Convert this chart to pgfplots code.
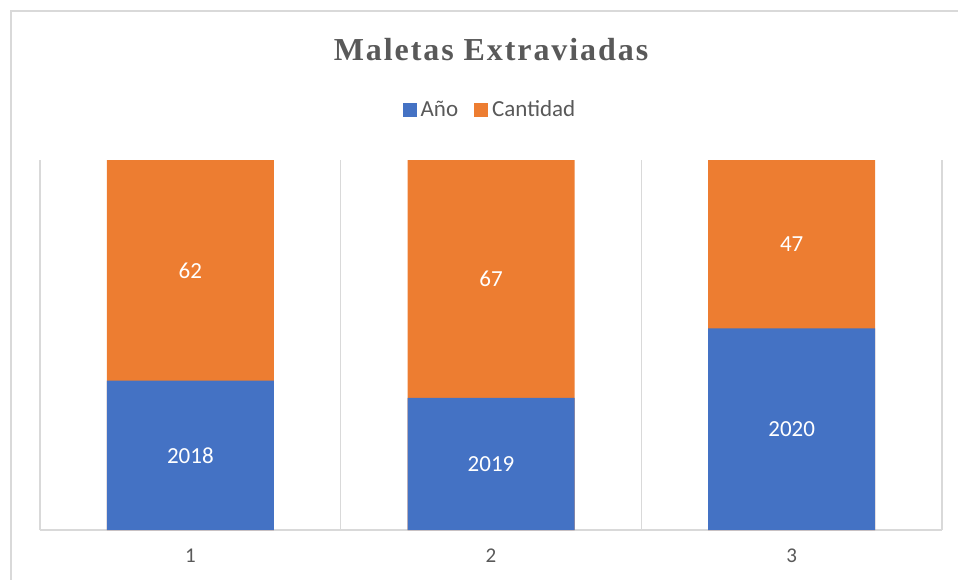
\documentclass[border=0pt]{standalone}
\usepackage{pgfplots}
\pgfplotsset{compat=1.18}
\usepackage{pgfplotstable}
\usepackage{fontspec}
\setmainfont{Carlito}
\newfontfamily\titlefont[LetterSpace=6]{Liberation Serif}
\definecolor{cblue}{HTML}{4472C4}
\definecolor{corange}{HTML}{ED7D31}
\definecolor{gridc}{HTML}{D9D9D9}
\definecolor{txt}{HTML}{595959}

% raw values: year and number of lost suitcases
\pgfplotstableread{
x anio cant
1 2018 62
2 2019 67
3 2020 47
}\datos

\begin{document}
\begin{tikzpicture}
\path[use as bounding box] (0,0) rectangle (479pt,289.5pt);
\draw[gridc, line width=0.8pt] (5.5pt,-20pt) rectangle (500pt,284pt);
\begin{axis}[
  at={(20pt,24.5pt)}, anchor=south west,
  scale only axis,
  width=451pt, height=185pt,
  xmin=0.5, xmax=3.5,
  ymin=95, ymax=100,
  xtick={1,2,3},
  minor xtick={0.5,1.5,2.5,3.5},
  xminorgrids=true,
  minor grid style={draw=gridc, line width=0.7pt},
  ytick=\empty,
  axis x line*=bottom,
  axis y line=none,
  x axis line style={draw=gridc, line width=0.9pt},
  major tick length=0pt, minor tick length=0pt,
  /pgf/number format/assume math mode=true,
  tick label style={font=\fontsize{10.5}{12}\selectfont, text=txt},
  xticklabel style={yshift=-6pt},
  title={\titlefont\bfseries\fontsize{16}{19}\selectfont Maletas Extraviadas},
  title style={at={(0.5,1.265)}, anchor=center, text=txt},
  legend columns=2,
  legend style={at={(0.5,1.135)}, anchor=center, draw=none,
    font=\fontsize{11.5}{13}\selectfont, text=txt,
    /tikz/every even column/.append style={column sep=6pt}},
  legend image code/.code={\fill[#1, draw=none] (0pt,-3.5pt) rectangle (7pt,3.5pt);},
]
% orange (Cantidad) drawn full height, blue (Año) share on top of it: 100% stacked view
\addplot[ybar, bar width=83.5pt, bar shift=0pt, fill=corange, draw=none, forget plot]
  table[x=x, y expr=100] {\datos};
\addplot[ybar, bar width=83.5pt, bar shift=0pt, fill=cblue, draw=none, forget plot]
  table[x=x, y expr={100*\thisrow{anio}/(\thisrow{anio}+\thisrow{cant})}] {\datos};
% data labels centred on the visible parts
\addplot[draw=none, mark=none, forget plot, nodes near coords, point meta=explicit symbolic,
  every node near coord/.style={anchor=center, text=white, font=\fontsize{11.5}{13}\selectfont}]
  table[x=x, y expr={(95+100*\thisrow{anio}/(\thisrow{anio}+\thisrow{cant}))/2}, meta=anio] {\datos};
\addplot[draw=none, mark=none, forget plot, nodes near coords, point meta=explicit symbolic,
  every node near coord/.style={anchor=center, text=white, font=\fontsize{11.5}{13}\selectfont}]
  table[x=x, y expr={(100+100*\thisrow{anio}/(\thisrow{anio}+\thisrow{cant}))/2}, meta=cant] {\datos};
\addlegendimage{fill=cblue, draw=none}
\addlegendentry{Año}
\addlegendimage{fill=corange, draw=none}
\addlegendentry{Cantidad}
\end{axis}
\end{tikzpicture}
\end{document}
